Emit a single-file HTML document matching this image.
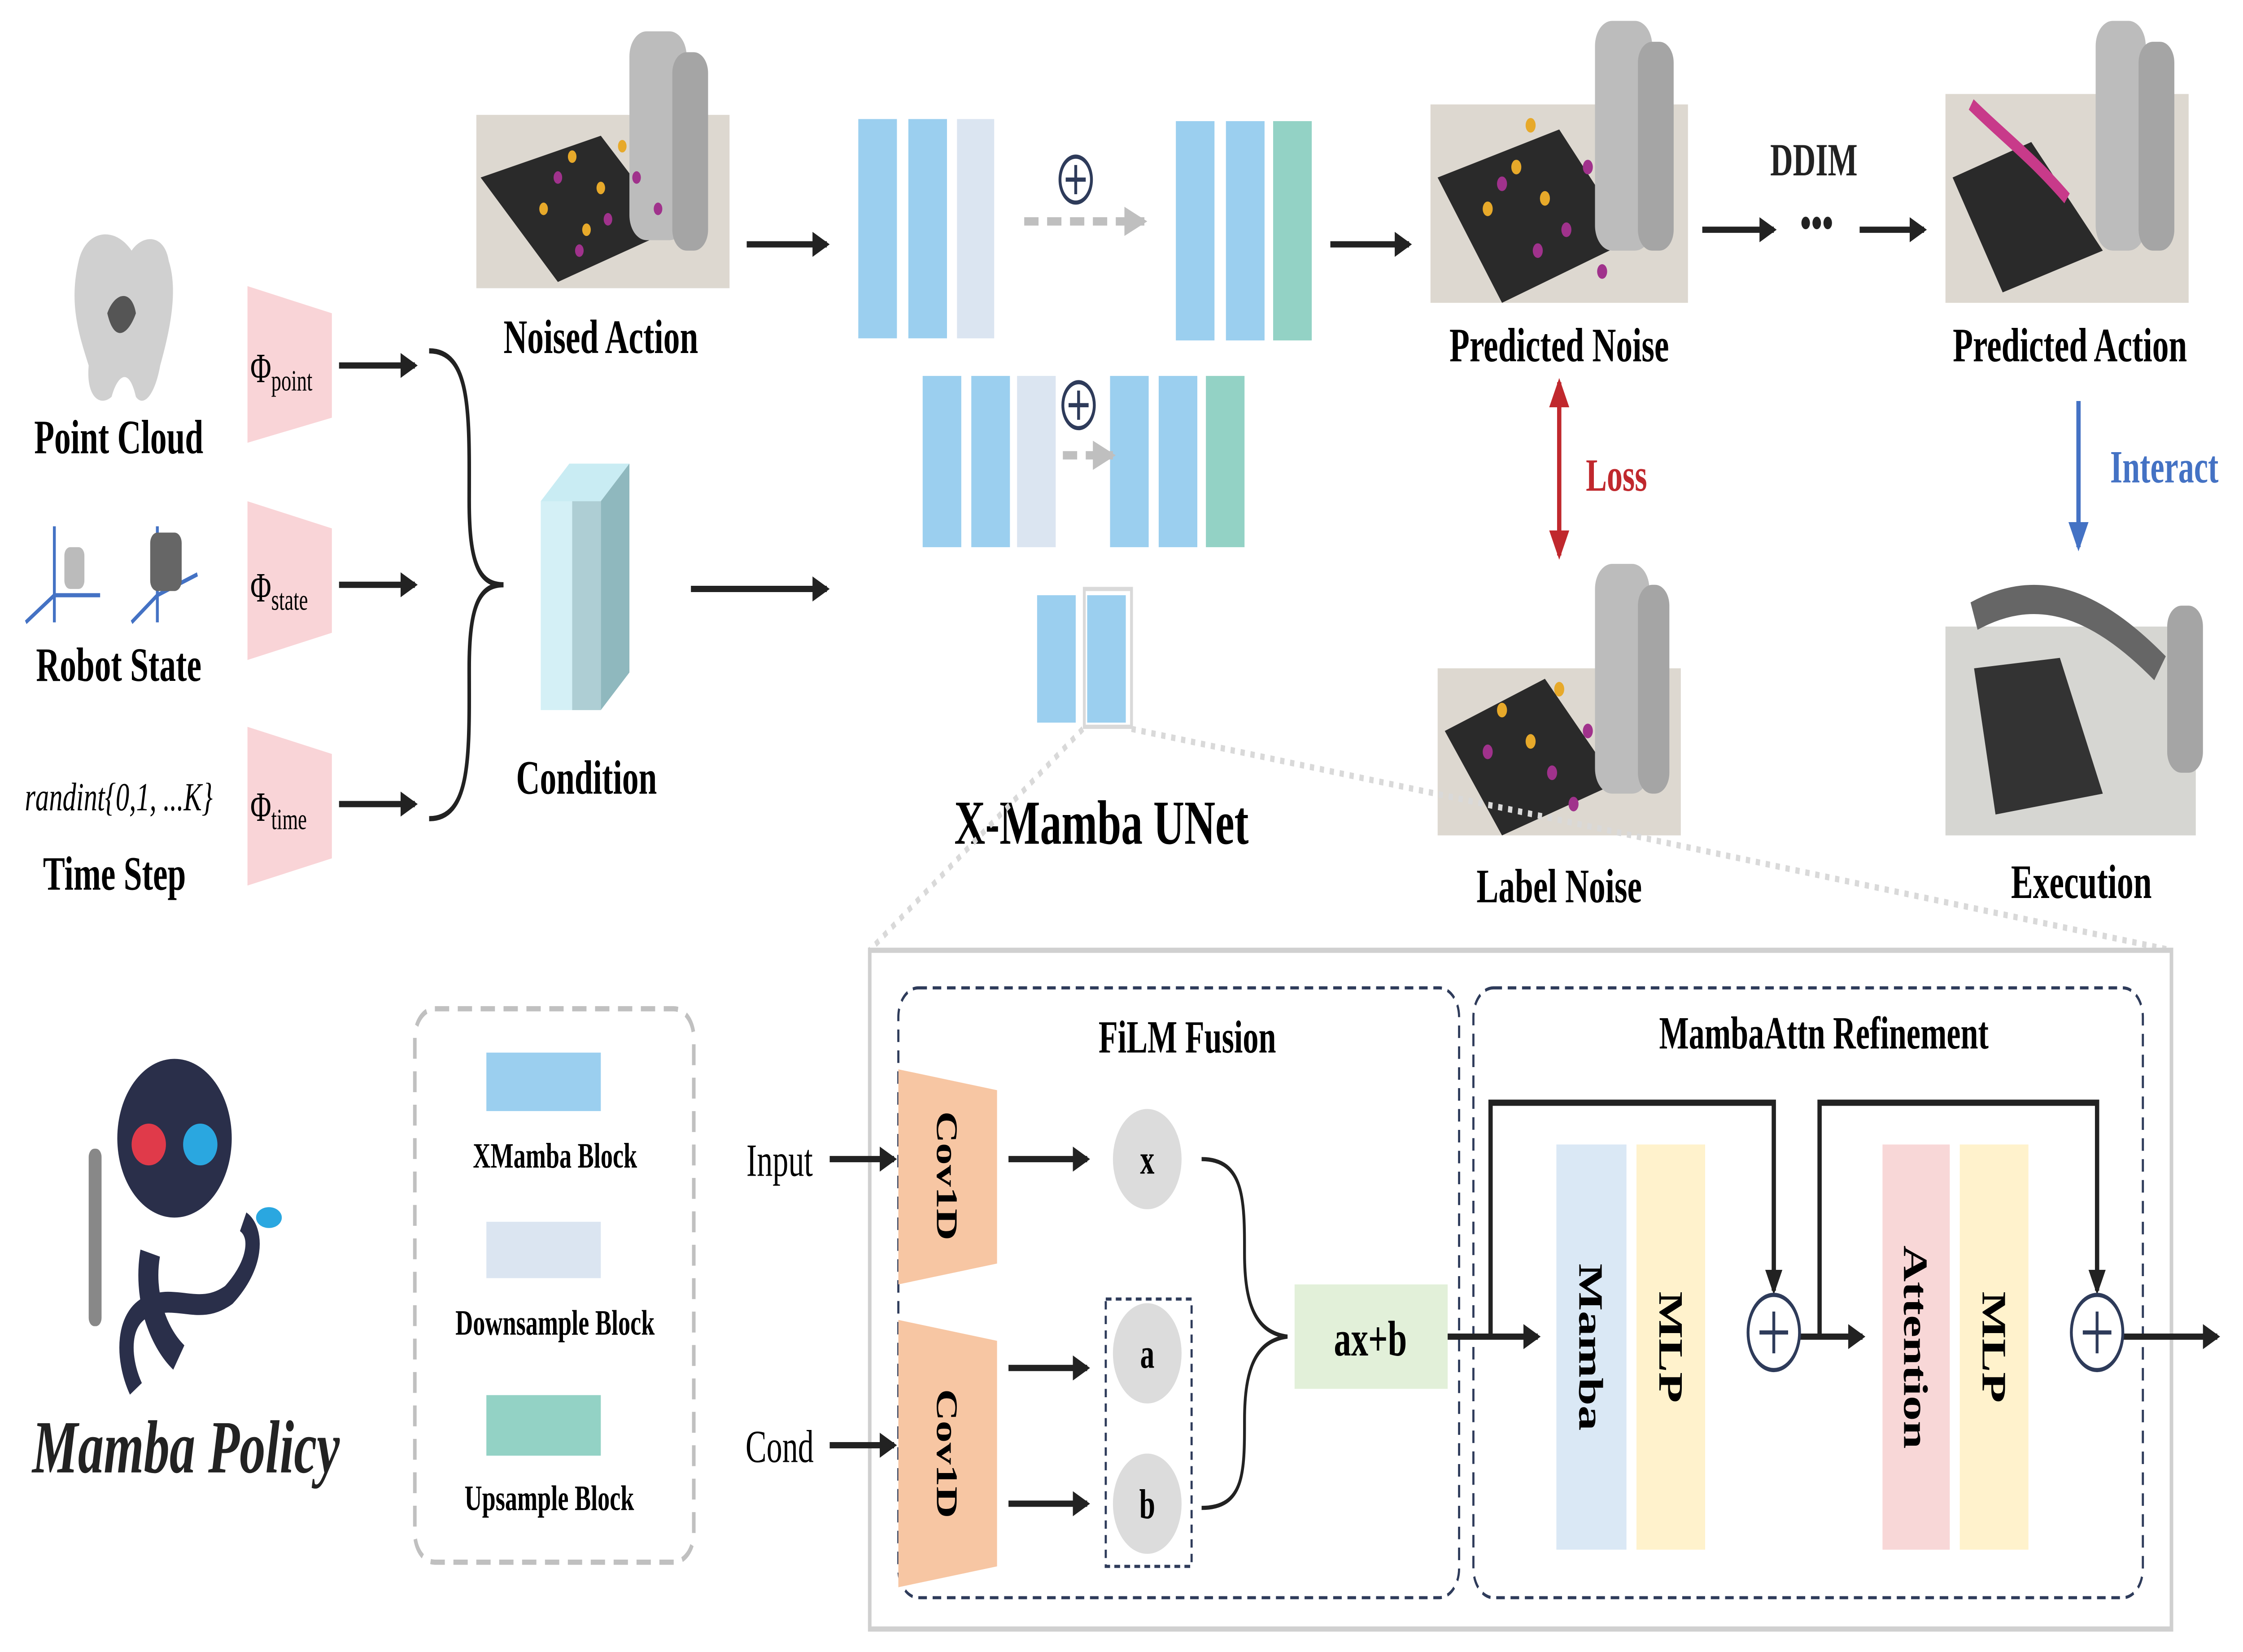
<!DOCTYPE html>
<html><head><meta charset="utf-8"><style>
html,body{margin:0;padding:0;background:#fff;overflow:hidden;width:100vw;height:100vh;}
svg{display:block;position:absolute;left:0;top:0;width:100vw;height:100vh;}
text{font-family:"Liberation Serif",serif;}
.b{font-weight:bold;}
</style></head><body>
<svg viewBox="0 0 1568 791" preserveAspectRatio="none" xmlns="http://www.w3.org/2000/svg">
<defs>
<marker id="ak" markerWidth="12" markerHeight="12" refX="10" refY="6" orient="auto" markerUnits="userSpaceOnUse"><path d="M0,0 L12,6 L0,12 z" fill="#222"/></marker>
<marker id="ag" markerWidth="16" markerHeight="14" refX="14" refY="7" orient="auto" markerUnits="userSpaceOnUse"><path d="M0,0 L16,7 L0,14 z" fill="#bfbfbf"/></marker>
<marker id="ar" markerWidth="14" markerHeight="14" refX="12" refY="7" orient="auto-start-reverse" markerUnits="userSpaceOnUse"><path d="M0,0 L14,7 L0,14 z" fill="#c0282d"/></marker>
<marker id="abl" markerWidth="14" markerHeight="14" refX="12" refY="7" orient="auto" markerUnits="userSpaceOnUse"><path d="M0,0 L14,7 L0,14 z" fill="#4472c4"/></marker>
</defs>
<g stroke="#222" stroke-width="3" fill="none">
<line x1="237" y1="175" x2="290" y2="175" marker-end="url(#ak)"/>
<line x1="237" y1="280" x2="290" y2="280" marker-end="url(#ak)"/>
<line x1="237" y1="385" x2="290" y2="385" marker-end="url(#ak)"/>
<path d="M300,168 C330,168 328,200 328,240 C328,270 335,280 352,280 C335,280 328,290 328,320 C328,360 330,392 300,392" stroke-width="2.5"/>
<line x1="483" y1="282" x2="578" y2="282" marker-end="url(#ak)"/>
<line x1="522" y1="117" x2="578" y2="117" marker-end="url(#ak)"/>
<line x1="930" y1="117" x2="985" y2="117" marker-end="url(#ak)"/>
<line x1="1190" y1="110" x2="1240" y2="110" marker-end="url(#ak)"/>
<line x1="1300" y1="110" x2="1345" y2="110" marker-end="url(#ak)"/>
</g>
<text x="1270" y="114" font-size="22" class="b" text-anchor="middle" fill="#222">•••</text>
<text x="1268" y="84" font-size="22" class="b" text-anchor="middle" fill="#222">DDIM</text>
<g fill="#d0d0d0">
<path d="M55,125 C60,110 80,108 92,120 C100,112 115,112 118,125 C125,140 118,160 112,175 C108,190 100,195 95,190 C90,175 82,180 78,190 C70,195 60,190 62,175 C55,160 48,145 55,125 z"/>
</g>
<path d="M75,150 C80,140 92,138 95,150 C90,160 80,165 75,150z" fill="#555"/>
<text x="83" y="217" font-size="23" class="b" text-anchor="middle">Point Cloud</text>
<g stroke="#4472c4" stroke-width="2">
<line x1="38" y1="298" x2="38" y2="252"/><line x1="38" y1="285" x2="70" y2="285"/><line x1="38" y1="285" x2="18" y2="298"/>
<line x1="110" y1="298" x2="110" y2="252"/><line x1="110" y1="285" x2="138" y2="275"/><line x1="110" y1="285" x2="92" y2="298"/>
</g>
<rect x="105" y="255" width="22" height="28" rx="5" fill="#666"/>
<rect x="45" y="262" width="14" height="20" rx="4" fill="#bbb"/>
<text x="83" y="326" font-size="23" class="b" text-anchor="middle">Robot State</text>
<text x="83" y="388" font-size="19" font-style="italic" text-anchor="middle">randint{0,1, ...K}</text>
<text x="80" y="426" font-size="23" class="b" text-anchor="middle">Time Step</text>
<g fill="#f9d4d7">
<path d="M173,137 L232,150 L232,200 L173,212 z"/>
<path d="M173,240 L232,253 L232,303 L173,316 z"/>
<path d="M173,348 L232,361 L232,411 L173,424 z"/>
</g>
<text x="175" y="183" font-size="20">Φ<tspan font-size="14" dy="4">point</tspan></text>
<text x="175" y="288" font-size="20">Φ<tspan font-size="14" dy="4">state</tspan></text>
<text x="175" y="393" font-size="20">Φ<tspan font-size="14" dy="4">time</tspan></text>
<path d="M378,240 L398,222 L440,222 L420,240 z" fill="#c9ecf3"/>
<path d="M420,240 L440,222 L440,322 L420,340 z" fill="#8fb8be"/>
<rect x="378" y="240" width="42" height="100" fill="#d4f0f6"/>
<rect x="400" y="240" width="20" height="100" fill="#aeced4"/>
<text x="410" y="380" font-size="23" class="b" text-anchor="middle">Condition</text>
<g>
<rect x="333" y="55" width="177" height="83" fill="#ddd8d0"/>
<path d="M336,85 L420,65 L470,110 L390,135 z" fill="#2a2a2a"/>
<rect x="440" y="15" width="40" height="100" rx="12" fill="#bcbcbc"/>
<rect x="470" y="25" width="25" height="95" rx="10" fill="#a5a5a5"/>
<g fill="#e7a92a"><circle cx="400" cy="75" r="3"/><circle cx="420" cy="90" r="3"/><circle cx="380" cy="100" r="3"/><circle cx="435" cy="70" r="3"/><circle cx="410" cy="110" r="3"/></g>
<g fill="#a0328c"><circle cx="390" cy="85" r="3"/><circle cx="425" cy="105" r="3"/><circle cx="445" cy="85" r="3"/><circle cx="405" cy="120" r="3"/><circle cx="460" cy="100" r="3"/></g>
</g>
<text x="420" y="169" font-size="23" class="b" text-anchor="middle">Noised Action</text>
<g>
<rect x="1000" y="50" width="180" height="95" fill="#ddd8d0"/>
<path d="M1005,85 L1090,62 L1140,115 L1050,145 z" fill="#2a2a2a"/>
<rect x="1115" y="10" width="40" height="110" rx="12" fill="#bcbcbc"/>
<rect x="1145" y="20" width="25" height="100" rx="10" fill="#a5a5a5"/>
<g fill="#e7a92a"><circle cx="1060" cy="80" r="3.5"/><circle cx="1080" cy="95" r="3.5"/><circle cx="1040" cy="100" r="3.5"/><circle cx="1070" cy="60" r="3.5"/></g>
<g fill="#a0328c"><circle cx="1050" cy="88" r="3.5"/><circle cx="1095" cy="110" r="3.5"/><circle cx="1110" cy="80" r="3.5"/><circle cx="1075" cy="120" r="3.5"/><circle cx="1120" cy="130" r="3.5"/></g>
</g>
<text x="1090" y="173" font-size="23" class="b" text-anchor="middle">Predicted Noise</text>
<g>
<rect x="1360" y="45" width="170" height="100" fill="#ddd8d0"/>
<path d="M1365,85 L1420,68 L1470,120 L1400,140 z" fill="#2a2a2a"/>
<rect x="1465" y="10" width="35" height="110" rx="12" fill="#bcbcbc"/>
<rect x="1495" y="20" width="25" height="100" rx="10" fill="#a5a5a5"/>
<path d="M1378,50 C1400,65 1420,75 1445,95" stroke="#c83a8a" stroke-width="6" fill="none"/>
</g>
<text x="1447" y="173" font-size="23" class="b" text-anchor="middle">Predicted Action</text>
<g>
<rect x="1005" y="320" width="170" height="80" fill="#ddd8d0"/>
<path d="M1010,350 L1080,325 L1130,375 L1050,400 z" fill="#2a2a2a"/>
<rect x="1115" y="270" width="38" height="110" rx="12" fill="#bcbcbc"/>
<rect x="1145" y="280" width="22" height="100" rx="10" fill="#a5a5a5"/>
<g fill="#e7a92a"><circle cx="1050" cy="340" r="3.5"/><circle cx="1070" cy="355" r="3.5"/><circle cx="1090" cy="330" r="3.5"/></g>
<g fill="#a0328c"><circle cx="1040" cy="360" r="3.5"/><circle cx="1085" cy="370" r="3.5"/><circle cx="1110" cy="350" r="3.5"/><circle cx="1100" cy="385" r="3.5"/></g>
</g>
<text x="1090" y="432" font-size="23" class="b" text-anchor="middle">Label Noise</text>
<g>
<rect x="1360" y="300" width="175" height="100" fill="#d6d6d2"/>
<path d="M1380,320 L1440,315 L1470,380 L1395,390 z" fill="#333"/>
<rect x="1515" y="290" width="25" height="80" rx="10" fill="#a5a5a5"/>
<path d="M1380,295 C1420,280 1460,285 1510,320" stroke="#666" stroke-width="14" fill="none"/>
</g>
<text x="1455" y="430" font-size="23" class="b" text-anchor="middle">Execution</text>
<line x1="1090" y1="183" x2="1090" y2="266" stroke="#c0282d" stroke-width="3" marker-start="url(#ar)" marker-end="url(#ar)"/>
<text x="1130" y="235" font-size="22" class="b" fill="#c0282d" text-anchor="middle">Loss</text>
<line x1="1453" y1="192" x2="1453" y2="262" stroke="#4472c4" stroke-width="3" marker-end="url(#abl)"/>
<text x="1513" y="231" font-size="22" class="b" fill="#4472c4" text-anchor="middle">Interact</text>
<g fill="#9bcfef">
<rect x="600" y="57" width="27" height="105"/><rect x="635" y="57" width="27" height="105"/>
<rect x="822" y="58" width="27" height="105"/><rect x="857" y="58" width="27" height="105"/>
<rect x="645" y="180" width="27" height="82"/><rect x="679" y="180" width="27" height="82"/>
<rect x="776" y="180" width="27" height="82"/><rect x="810" y="180" width="27" height="82"/>
<rect x="725" y="285" width="27" height="61"/><rect x="760" y="285" width="27" height="61"/>
</g>
<g fill="#dbe5f1"><rect x="669" y="57" width="26" height="105"/><rect x="711" y="180" width="27" height="82"/></g>
<g fill="#93d2c5"><rect x="890" y="58" width="27" height="105"/><rect x="843" y="180" width="27" height="82"/></g>
<rect x="758" y="282" width="33" height="66" fill="none" stroke="#d9d9d9" stroke-width="2"/>
<line x1="716" y1="106" x2="800" y2="106" stroke="#bfbfbf" stroke-width="4" stroke-dasharray="10,6" marker-end="url(#ag)"/>
<line x1="743" y1="218" x2="778" y2="218" stroke="#bfbfbf" stroke-width="4" stroke-dasharray="10,6" marker-end="url(#ag)"/>
<g stroke="#2e3b5a" stroke-width="2" fill="none">
<circle cx="752" cy="86" r="11"/><path d="M752,79 V93 M745,86 H759"/>
<circle cx="754" cy="194" r="11"/><path d="M754,187 V201 M747,194 H761"/>
</g>
<text x="770" y="404" font-size="30" class="b" text-anchor="middle">X-Mamba UNet</text>
<g stroke="#d9d9d9" stroke-width="3" stroke-dasharray="3,4">
<line x1="757" y1="349" x2="608" y2="455"/><line x1="791" y1="349" x2="1518" y2="455"/>
</g>
<rect x="608" y="455" width="910" height="325" fill="none" stroke="#d0d0d0" stroke-width="2.5"/>
<rect x="628" y="473" width="392" height="292" rx="14" fill="none" stroke="#2e3b5a" stroke-width="1.5" stroke-dasharray="6,4"/>
<rect x="1030" y="473" width="468" height="292" rx="14" fill="none" stroke="#2e3b5a" stroke-width="1.5" stroke-dasharray="6,4"/>
<text x="830" y="504" font-size="22" class="b" text-anchor="middle">FiLM Fusion</text>
<text x="1275" y="502" font-size="22" class="b" text-anchor="middle">MambaAttn Refinement</text>
<rect x="290" y="483" width="195" height="265" rx="14" fill="none" stroke="#c0c0c0" stroke-width="2.5" stroke-dasharray="10,6"/>
<rect x="340" y="504" width="80" height="28" fill="#9bcfef"/>
<rect x="340" y="585" width="80" height="27" fill="#dbe5f1"/>
<rect x="340" y="668" width="80" height="29" fill="#93d2c5"/>
<text x="388" y="559" font-size="17" class="b" text-anchor="middle">XMamba Block</text>
<text x="388" y="639" font-size="17" class="b" text-anchor="middle">Downsample Block</text>
<text x="384" y="723" font-size="17" class="b" text-anchor="middle">Upsample Block</text>
<g>
<path d="M95,665 C85,650 85,630 105,625 C125,620 140,630 160,620 C180,605 180,590 170,585" fill="none" stroke="#2a2f4a" stroke-width="10"/>
<path d="M105,600 C100,620 110,640 125,650" fill="none" stroke="#2a2f4a" stroke-width="14"/>
<ellipse cx="122" cy="545" rx="40" ry="38" fill="#2a2f4a"/>
<ellipse cx="104" cy="548" rx="12" ry="10" fill="#e03a4a"/><ellipse cx="140" cy="548" rx="12" ry="10" fill="#2aa7e0"/>
<rect x="62" y="550" width="9" height="85" rx="4" fill="#888"/>
<ellipse cx="188" cy="583" rx="9" ry="5" fill="#2aa7e0"/>
</g>
<text x="130" y="705" font-size="36" class="b" font-style="italic" text-anchor="middle" fill="#222">Mamba Policy</text>
<text x="545" y="563" font-size="22" text-anchor="middle">Input</text>
<text x="545" y="700" font-size="22" text-anchor="middle">Cond</text>
<g fill="#f7c6a3">
<path d="M628,512 L697,522 L697,605 L628,615 z"/>
<path d="M628,632 L697,642 L697,750 L628,760 z"/>
</g>
<text transform="translate(655,563) rotate(90)" font-size="21" class="b" text-anchor="middle">Cov1D</text>
<text transform="translate(655,696) rotate(90)" font-size="21" class="b" text-anchor="middle">Cov1D</text>
<g stroke="#222" stroke-width="3" fill="none">
<line x1="580" y1="555" x2="625" y2="555" marker-end="url(#ak)"/>
<line x1="580" y1="692" x2="625" y2="692" marker-end="url(#ak)"/>
<line x1="705" y1="555" x2="760" y2="555" marker-end="url(#ak)"/>
<line x1="705" y1="655" x2="760" y2="655" marker-end="url(#ak)"/>
<line x1="705" y1="720" x2="760" y2="720" marker-end="url(#ak)"/>
<path d="M840,555 C870,555 870,575 870,600 C870,625 878,638 900,640 C878,642 870,655 870,680 C870,705 870,722 840,722" stroke-width="2"/>
<line x1="1012" y1="640" x2="1075" y2="640" marker-end="url(#ak)"/>
<path d="M1042,640 V528 H1240 V618" marker-end="url(#ak)"/>
<line x1="1258" y1="640" x2="1302" y2="640" marker-end="url(#ak)"/>
<path d="M1272,640 V528 H1466 V618" marker-end="url(#ak)"/>
<line x1="1484" y1="640" x2="1550" y2="640" marker-end="url(#ak)"/>
</g>
<g fill="#dcdcdc"><circle cx="802" cy="555" r="24"/><circle cx="802" cy="648" r="24"/><circle cx="802" cy="720" r="24"/></g>
<rect x="773" y="622" width="60" height="128" fill="none" stroke="#2e3b5a" stroke-width="1.5" stroke-dasharray="4,3"/>
<text x="802" y="562" font-size="20" class="b" text-anchor="middle">x</text>
<text x="802" y="655" font-size="20" class="b" text-anchor="middle">a</text>
<text x="802" y="727" font-size="20" class="b" text-anchor="middle">b</text>
<rect x="905" y="615" width="107" height="50" fill="#e2f0d9"/>
<text x="958" y="649" font-size="24" class="b" text-anchor="middle">ax+b</text>
<rect x="1088" y="548" width="49" height="194" fill="#dae8f5"/>
<rect x="1144" y="548" width="48" height="194" fill="#fff2cc"/>
<rect x="1316" y="548" width="47" height="194" fill="#f8d7d7"/>
<rect x="1370" y="548" width="48" height="194" fill="#fff2cc"/>
<text transform="translate(1104,645) rotate(90)" font-size="24" class="b" text-anchor="middle">Mamba</text>
<text transform="translate(1160,645) rotate(90)" font-size="24" class="b" text-anchor="middle">MLP</text>
<text transform="translate(1331,645) rotate(90)" font-size="24" class="b" text-anchor="middle">Attention</text>
<text transform="translate(1386,645) rotate(90)" font-size="24" class="b" text-anchor="middle">MLP</text>
<g stroke="#2e3b5a" stroke-width="2" fill="#fff">
<circle cx="1240" cy="638" r="18"/><circle cx="1466" cy="638" r="18"/>
</g>
<g stroke="#2e3b5a" stroke-width="2"><path d="M1240,628 V648 M1230,638 H1250 M1466,628 V648 M1456,638 H1476"/></g>
</svg>
</body></html>
